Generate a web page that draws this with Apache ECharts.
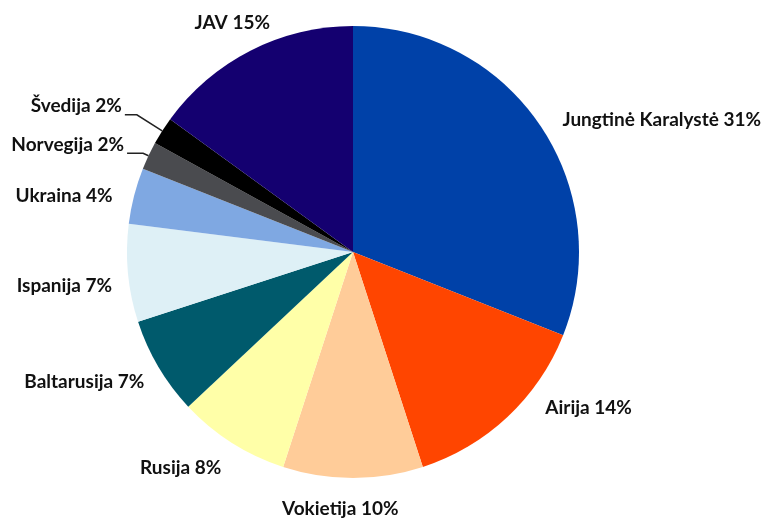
<!DOCTYPE html>
<html>
<head>
<meta charset="utf-8">
<script src="https://cdn.jsdelivr.net/npm/echarts@6/dist/echarts.min.js"></script>
<style>
  html, body { margin: 0; padding: 0; background: #fff; }
  #chart { width: 771px; height: 518px; }
</style>
</head>
<body>
<div id="chart"></div>
<script>
// šalys ir jų dalys (%)
var countries = ['Jungtinė Karalystė', 'Airija', 'Vokietija', 'Rusija', 'Baltarusija',
                 'Ispanija', 'Ukraina', 'Norvegija', 'Švedija', 'JAV'];
var shares = [31, 14, 10, 8, 7, 7, 4, 2, 2, 15];
var colors = ['#0041a8', '#ff4500', '#ffcc99', '#ffffa8', '#005a6c',
              '#def0f6', '#7fa8e2', '#4a4b4f', '#000000', '#140070'];

var myChart = echarts.init(document.getElementById('chart'));

var seriesData = countries.map(function (name, i) {
  var item = { name: name, value: shares[i], itemStyle: { color: colors[i] } };
  // tik mažiems sektoriams rodoma linija
  if (name === 'Švedija') {
    item.labelLine = { show: true, length: 30, length2: 12 };
  } else if (name === 'Norvegija') {
    item.labelLine = { show: true, length: 6, length2: 16 };
  }
  return item;
});

// etikečių poslinkiai, kad atitiktų Excel išdėstymą
var shift = {
  'Jungtinė Karalystė': [2, 3],
  'Airija': [19, -19],
  'Vokietija': [-80, 17],
  'Rusija': [6, 13],
  'Baltarusija': [7, 8],
  'Ispanija': [7, 11],
  'Ukraina': [1, 4],
  'Norvegija': [0, -8],
  'Švedija': [0, -9],
  'JAV': [35, -15]
};

var options = {
  backgroundColor: '#fff',
  animation: false,
  series: [
    {
      type: 'pie',
      center: [353, 252],
      radius: 226,
      startAngle: 90,
      clockwise: true,
      avoidLabelOverlap: false,
      data: seriesData,
      label: {
        show: true,
        position: 'outside',
        formatter: '{b} {c}%',
        fontFamily: 'Lato',
        fontWeight: 'bold',
        fontSize: 19,
        color: '#111',
        distanceToLabelLine: 3
      },
      labelLine: {
        show: false,
        length: 14,
        length2: 6,
        smooth: false,
        lineStyle: { color: '#222', width: 1.5 }
      },
      labelLayout: function (params) {
        var s = shift[countries[params.dataIndex]] || [0, 0];
        return { dx: s[0], dy: s[1] };
      }
    }
  ]
};
myChart.setOption(options, true);
</script>
</body>
</html>
